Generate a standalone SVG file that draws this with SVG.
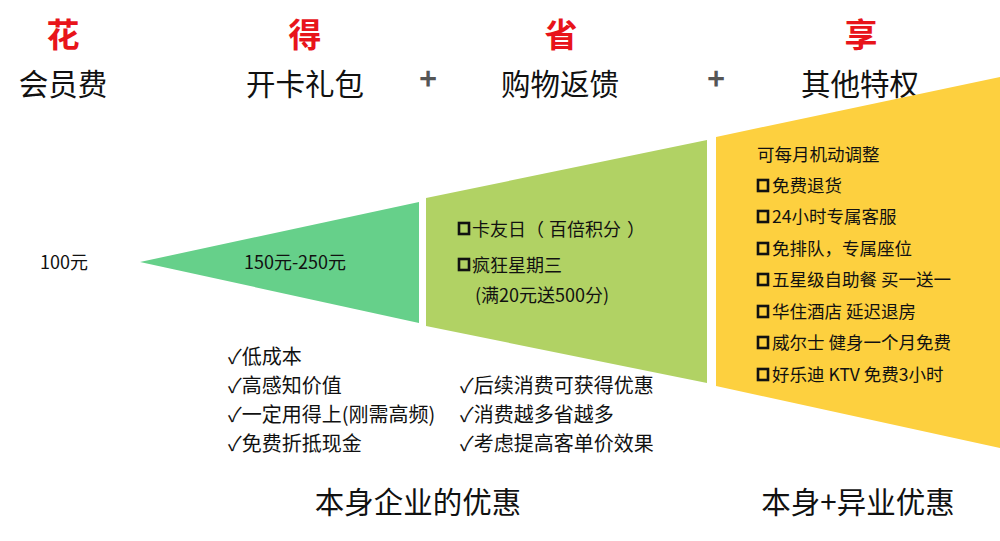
<svg xmlns="http://www.w3.org/2000/svg" width="1000" height="541" viewBox="0 0 1000 541">
<style>
text{font-family:"Microsoft YaHei","Noto Sans CJK SC","Noto Sans",sans-serif;fill:#111}
.red{fill:#E8141A;font-weight:bold;font-size:33px}
.head{font-size:29.5px}
.plus{fill:#555;font-weight:bold;font-size:30px}
.mid{font-size:18px}
.y{font-size:17.5px}
.chk{font-size:20px}
.foot{font-size:29.5px}
.box{fill:none;stroke:#111;stroke-width:2.6}
</style>
<rect width="1000" height="541" fill="#fff"/>
<g id="header">
<text class="red" x="63" y="47" text-anchor="middle">花</text>
<text class="head" x="63" y="95" text-anchor="middle">会员费</text>
<text class="red" x="305" y="47" text-anchor="middle">得</text>
<text class="head" x="305" y="95" text-anchor="middle">开卡礼包</text>
<text class="plus" x="428" y="90" text-anchor="middle">+</text>
<text class="red" x="561" y="47" text-anchor="middle">省</text>
<text class="head" x="560" y="95" text-anchor="middle">购物返馈</text>
<text class="plus" x="716" y="90" text-anchor="middle">+</text>
<text class="red" x="861" y="47" text-anchor="middle">享</text>
<text class="head" x="860" y="95" text-anchor="middle">其他特权</text>
</g>
<g id="fee">
<text class="mid" x="40" y="269">100元</text>
</g>
<g id="gift">
<polygon points="140,262 419,202 419,323" fill="#66D08A"/>
<text class="mid" x="295" y="269" text-anchor="middle">150元-250元</text>
</g>
<g id="feedback">
<polygon points="426,198 707,140 707,383 426,326" fill="#B1D264"/>
<rect class="box" x="459" y="223" width="10" height="11"/>
<text class="mid" x="472" y="236">卡友日（<tspan dx="5">百倍积分</tspan><tspan dx="6">）</tspan></text>
<rect class="box" x="459" y="259" width="10" height="11"/>
<text class="mid" x="472" y="272">疯狂星期三</text>
<text class="mid" x="475" y="302">(满20元送500分)</text>
</g>
<g id="privilege">
<polygon points="716,137 1000,77 1000,448 716,386" fill="#FDD03F"/>
<text class="y" x="757" y="161">可每月机动调整</text>
<rect class="box" x="758" y="180" width="10" height="11"/>
<text class="y" x="772" y="192">免费退货</text>
<rect class="box" x="758" y="211" width="10" height="11"/>
<text class="y" x="772" y="223">24小时专属客服</text>
<rect class="box" x="758" y="243" width="10" height="11"/>
<text class="y" x="772" y="255">免排队，专属座位</text>
<rect class="box" x="758" y="274" width="10" height="11"/>
<text class="y" x="772" y="286">五星级自助餐 买一送一</text>
<rect class="box" x="758" y="306" width="10" height="11"/>
<text class="y" x="772" y="318">华住酒店 延迟退房</text>
<rect class="box" x="758" y="337" width="10" height="11"/>
<text class="y" x="772" y="349">威尔士 健身一个月免费</text>
<rect class="box" x="758" y="369" width="10" height="11"/>
<text class="y" x="772" y="381">好乐迪 KTV 免费3小时</text>
</g>
<g id="gift-notes">
<text class="chk" x="228" y="364">✓低成本</text>
<text class="chk" x="228" y="393">✓高感知价值</text>
<text class="chk" x="228" y="422">✓一定用得上(刚需高频)</text>
<text class="chk" x="228" y="451">✓免费折抵现金</text>
</g>
<g id="feedback-notes">
<text class="chk" x="460" y="393">✓后续消费可获得优惠</text>
<text class="chk" x="460" y="422">✓消费越多省越多</text>
<text class="chk" x="460" y="451">✓考虑提高客单价效果</text>
</g>
<g id="footer">
<text class="foot" x="418" y="513" text-anchor="middle">本身企业的优惠</text>
<text class="foot" x="858" y="513" text-anchor="middle">本身+异业优惠</text>
</g>
<g id="connectors"/>
</svg>
